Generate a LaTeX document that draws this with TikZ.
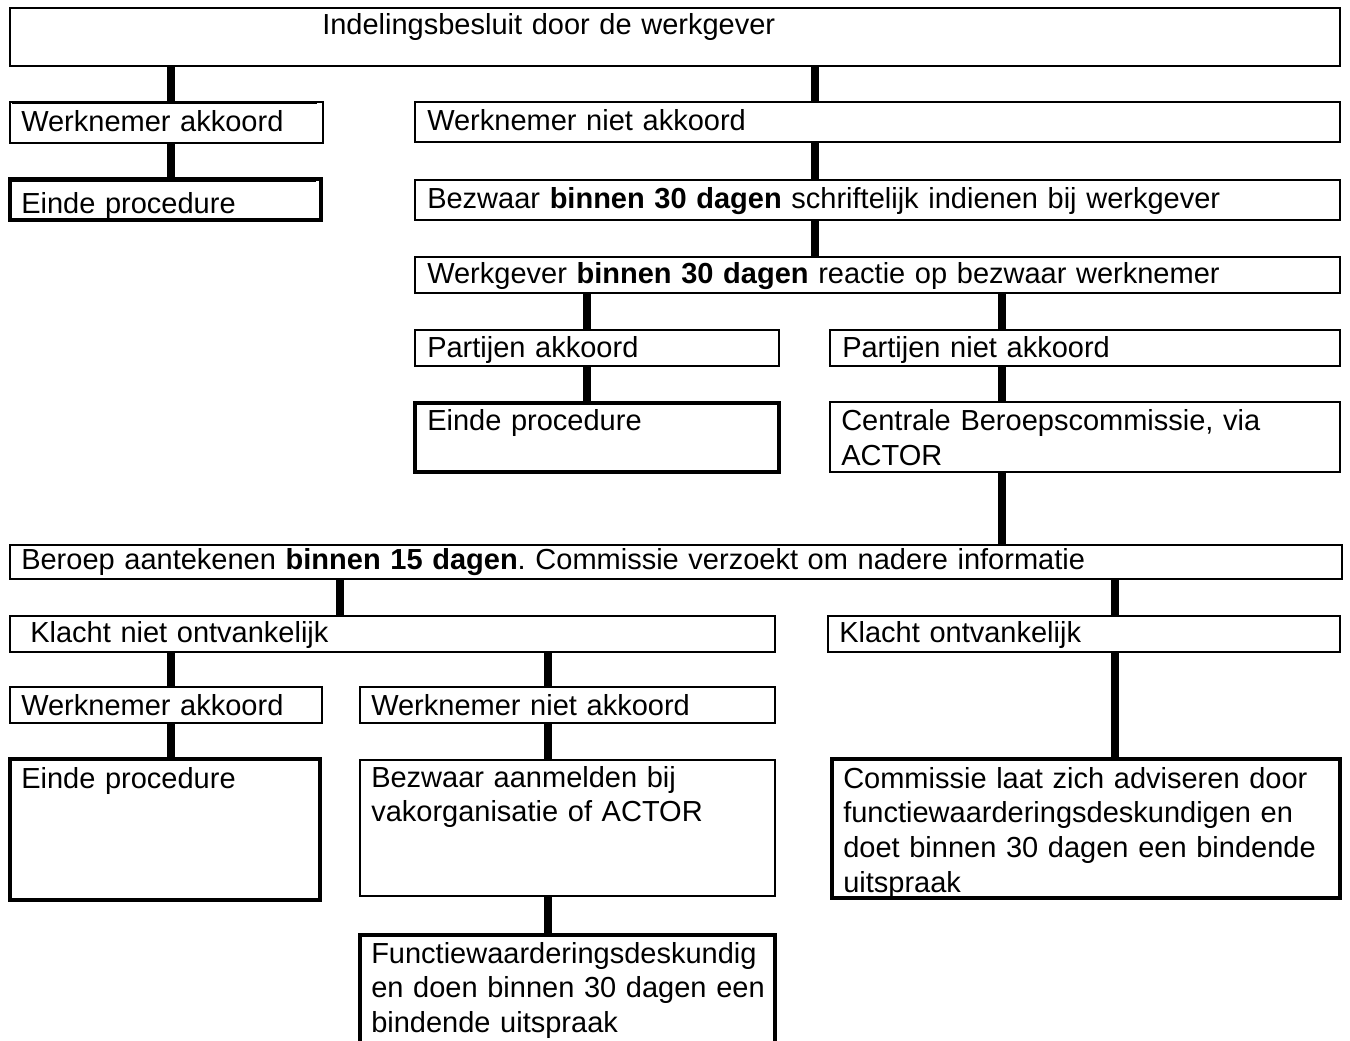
\documentclass[tikz,border=0pt]{standalone}
\usepackage{fontspec}
\setmainfont{Liberation Sans}
\frenchspacing
\usetikzlibrary{fit}
\tikzset{
  x=0.75pt, y=-0.75pt,
  bx/.style={draw, line width=1.5pt, inner sep=0pt},
  bxthick/.style={bx, line width=3.2pt},
  bxmed/.style={bx, line width=2pt},
  txt/.style={anchor=base west, inner sep=0pt, align=left, text width=1300pt,
    font=\fontsize{21.75}{26.2}\selectfont},
  conn/.style={line width=6pt},
  hair/.style={line width=0.9pt}
}
\begin{document}
\begin{tikzpicture}
\useasboundingbox (0,0) rectangle (1350,1041);
\clip (0,0) rectangle (1350,1041);
% boxes
\node[bx, fit={(10,8) (1340,66)}] (top) {};
\node[bx, fit={(10,102) (323,143)}] (wa1) {};
\node[bxthick, fit={(10,179) (321,220)}] (ep1) {};
\node[bx, fit={(415,102) (1340,142)}] (wn1) {};
\node[bx, fit={(415,180) (1340,220)}] (bz1) {};
\node[bx, fit={(415,257) (1340,293)}] (wg) {};
\node[bx, fit={(415,330) (779,366)}] (pa) {};
\node[bx, fit={(830,330) (1340,366)}] (pn) {};
\node[bxthick, fit={(415,403) (779,472)}] (ep2) {};
\node[bxmed, fit={(830,402) (1340,472)}] (cb) {};
\node[bx, fit={(10,545) (1342,579)}] (ber) {};
\node[bx, fit={(10,616) (775,652)}] (kn) {};
\node[bx, fit={(828,616) (1340,652)}] (ko) {};
\node[bx, fit={(10,687) (322,723)}] (wa2) {};
\node[bx, fit={(360,687) (775,723)}] (wn2) {};
\node[bxthick, fit={(10,759) (320,900)}] (ep3) {};
\node[bx, fit={(360,760) (775,896)}] (bza) {};
\node[bxthick, fit={(832,759) (1340,898)}] (com) {};
\node[bxthick, fit={(360,935) (775,1070)}] (fw) {};
% inner hairlines at the tops of the two small left boxes
\draw[hair] ([shift={(3,2.5)}]wa1.north west) -- ([shift={(-7,2.5)}]wa1.north east);
\draw[hair] ([shift={(3,4.5)}]ep1.north west) -- ([shift={(-7,4.5)}]ep1.north east);
% texts
\node[txt] (t-top) at (322,35) {Indelingsbesluit door de werkgever};
\node[txt] (t-wa1) at (21,132) {Werknemer akkoord};
\node[txt] (t-ep1) at (21,214) {Einde procedure};
\node[txt] (t-wn1) at (427,131) {Werknemer niet akkoord};
\node[txt] (t-bz1) at (427,209) {Bezwaar \textbf{binnen 30 dagen} schriftelijk indienen bij werkgever};
\node[txt] (t-wg) at (427,284) {Werkgever \textbf{binnen 30 dagen} reactie op bezwaar werknemer};
\node[txt] (t-pa) at (427,358) {Partijen akkoord};
\node[txt] (t-pn) at (842,358) {Partijen niet akkoord};
\node[txt] (t-ep2) at (427,430) {Einde procedure};
\node[txt] (t-cb) at (841,431) {Centrale Beroepscommissie, via\\ACTOR};
\node[txt] (t-ber) at (21,569) {Beroep aantekenen \textbf{binnen 15 dagen}. Commissie verzoekt om nadere informatie};
\node[txt] (t-kn) at (30,642) {Klacht niet ontvankelijk};
\node[txt] (t-ko) at (839,642) {Klacht ontvankelijk};
\node[txt] (t-wa2) at (21,715) {Werknemer akkoord};
\node[txt] (t-wn2) at (371,715) {Werknemer niet akkoord};
\node[txt] (t-ep3) at (21,788) {Einde procedure};
\node[txt] (t-bza) at (371,787) {Bezwaar aanmelden bij\\vakorganisatie of ACTOR};
\node[txt] (t-com) at (843,788) {Commissie laat zich adviseren door\\functiewaarderingsdeskundigen en\\doet binnen 30 dagen een bindende\\uitspraak};
\node[txt] (t-fw) at (371,963) {Functiewaarderingsdeskundig\\en doen binnen 30 dagen een\\bindende uitspraak};
% connectors
\draw[conn] (top.south -| 171,0) -- (wa1.north -| 171,0);
\draw[conn] (top.south -| 815,0) -- (wn1.north -| 815,0);
\draw[conn] (wa1.south -| 171,0) -- (ep1.north -| 171,0);
\draw[conn] (wn1.south -| 815,0) -- (bz1.north -| 815,0);
\draw[conn] (bz1.south -| 815,0) -- (wg.north -| 815,0);
\draw[conn] (wg.south -| 587,0) -- (pa.north -| 587,0);
\draw[conn] (wg.south -| 1002,0) -- (pn.north -| 1002,0);
\draw[conn] (pa.south -| 587,0) -- (ep2.north -| 587,0);
\draw[conn] (pn.south -| 1002,0) -- (cb.north -| 1002,0);
\draw[conn] (cb.south -| 1002,0) -- (ber.north -| 1002,0);
\draw[conn] (ber.south -| 340,0) -- (kn.north -| 340,0);
\draw[conn] (ber.south -| 1115,0) -- (ko.north -| 1115,0);
\draw[conn] (kn.south -| 171,0) -- (wa2.north -| 171,0);
\draw[conn] (kn.south -| 548,0) -- (wn2.north -| 548,0);
\draw[conn] (ko.south -| 1115,0) -- (com.north -| 1115,0);
\draw[conn] (wa2.south -| 171,0) -- (ep3.north -| 171,0);
\draw[conn] (wn2.south -| 548,0) -- (bza.north -| 548,0);
\draw[conn] (bza.south -| 548,0) -- (fw.north -| 548,0);
\end{tikzpicture}
\end{document}
